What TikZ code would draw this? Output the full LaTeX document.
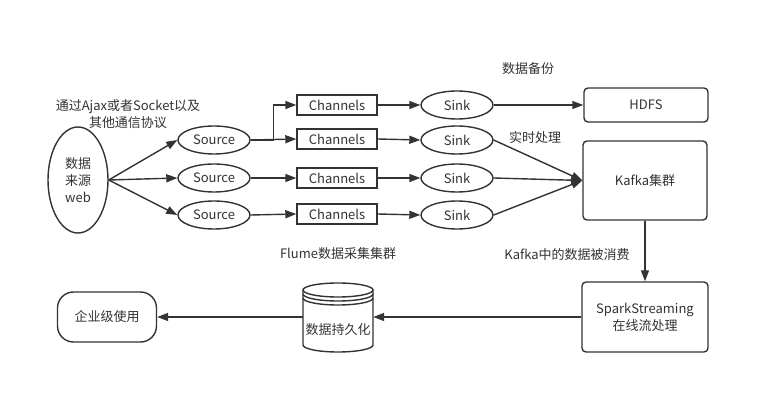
\documentclass[tikz,border=0pt]{standalone}
\usepackage{fontspec}
\setmainfont{Noto Sans CJK SC}
\usetikzlibrary{shapes.geometric,arrows.meta}
\definecolor{ln}{HTML}{333333}
\begin{document}
\begin{tikzpicture}[x=1pt,y=-1pt,
  every node/.style={font=\fontsize{13}{17}\selectfont, text=ln, inner sep=0pt},
  ell/.style={ellipse, draw=ln, line width=1.4pt},
  chbox/.style={rectangle, draw=ln, line width=1.4pt, minimum width=80pt, minimum height=20pt},
  rbox/.style={rectangle, rounded corners=4pt, draw=ln, line width=1.4pt},
  arr/.style={draw=ln, line width=1.4pt, -{Triangle[length=11pt,width=8pt]}},
  plain/.style={draw=ln, line width=1.4pt}]
\fill[white] (0,0) rectangle (769,414);
\useasboundingbox (0,0) rectangle (769,414);

% source node
\node[ell, minimum width=60pt, minimum height=106pt, align=center] (web) at (78,180) {数据\\来源\\web};

% sources
\node[ell, minimum width=72pt, minimum height=28pt] (s1) at (214,140) {Source};
\node[ell, minimum width=72pt, minimum height=28pt] (s2) at (214,178) {Source};
\node[ell, minimum width=72pt, minimum height=28pt] (s3) at (214,215) {Source};

% channels
\node[chbox] (c1) at (337,105) {Channels};
\node[chbox] (c2) at (337,139) {Channels};
\node[chbox] (c3) at (337,178) {Channels};
\node[chbox] (c4) at (337,214) {Channels};

% sinks
\node[ell, minimum width=72pt, minimum height=28pt] (k1) at (457,105) {Sink};
\node[ell, minimum width=72pt, minimum height=28pt] (k2) at (457,140) {Sink};
\node[ell, minimum width=72pt, minimum height=28pt] (k3) at (457,178) {Sink};
\node[ell, minimum width=72pt, minimum height=28pt] (k4) at (457,215) {Sink};

% targets
\node[rbox, minimum width=124pt, minimum height=34pt] (hdfs) at (646,105) {HDFS};
\node[rbox, minimum width=124pt, minimum height=79pt] (kafka) at (645,180.5) {Kafka集群};
\node[rbox, minimum width=126pt, minimum height=70pt, align=center] (spark) at (645,317) {SparkStreaming\\在线流处理};
\node[rectangle, rounded corners=16pt, draw=ln, line width=1.4pt, minimum width=99pt, minimum height=50pt] (ent) at (107,317) {企业级使用};

% cylinder
\node[rectangle, minimum width=70pt, minimum height=66pt] (db) at (338,317) {};
\begin{scope}[draw=ln, line width=1.4pt]
  \draw[fill=white] (303,290) -- (303,345) arc[start angle=180, end angle=360, x radius=35pt, y radius=7pt] -- (373,290);
  \draw[fill=white] (338,290) ellipse [x radius=35pt, y radius=7pt];
  \draw (303,294) arc[start angle=180, end angle=360, x radius=35pt, y radius=7pt];
  \draw (303,298) arc[start angle=180, end angle=360, x radius=35pt, y radius=7pt];
\end{scope}
\node at (338,330) {数据持久化};

% labels
\node[align=center] at (128,114) {通过Ajax或者Socket以及\\其他通信协议};
\node at (528,69) {数据备份};
\node at (535,138) {实时处理};
\node at (338,254) {Flume数据采集集群};
\node at (567,255) {Kafka中的数据被消费};

% connectors
\draw[arr] (web.east) -- (s1.west);
\draw[arr] (web.east) -- (s2.west);
\draw[arr] (web.east) -- (s3.west);
\draw[arr] (s1.east) -- (c2.west);
\draw[arr] (s1.east) -- ++(23,0) |- (c1.west);
\draw[arr] (s2.east) -- (c3.west);
\draw[arr] (s3.east) -- (c4.west);
\draw[arr] (c1.east) -- (k1.west);
\draw[arr] (c2.east) -- (k2.west);
\draw[arr] (c3.east) -- (k3.west);
\draw[arr] (c4.east) -- (k4.west);
\draw[arr] (k1.east) -- (hdfs.west);
\draw[arr] (k2.east) -- (kafka.west);
\draw[arr] (k3.east) -- (kafka.west);
\draw[arr] (k4.east) -- (kafka.west);
\draw[arr] (kafka.south) -- (spark.north);
\draw[arr] (spark.west) -- (db.east);
\draw[arr] (db.west) -- (ent.east);
\end{tikzpicture}
\end{document}
